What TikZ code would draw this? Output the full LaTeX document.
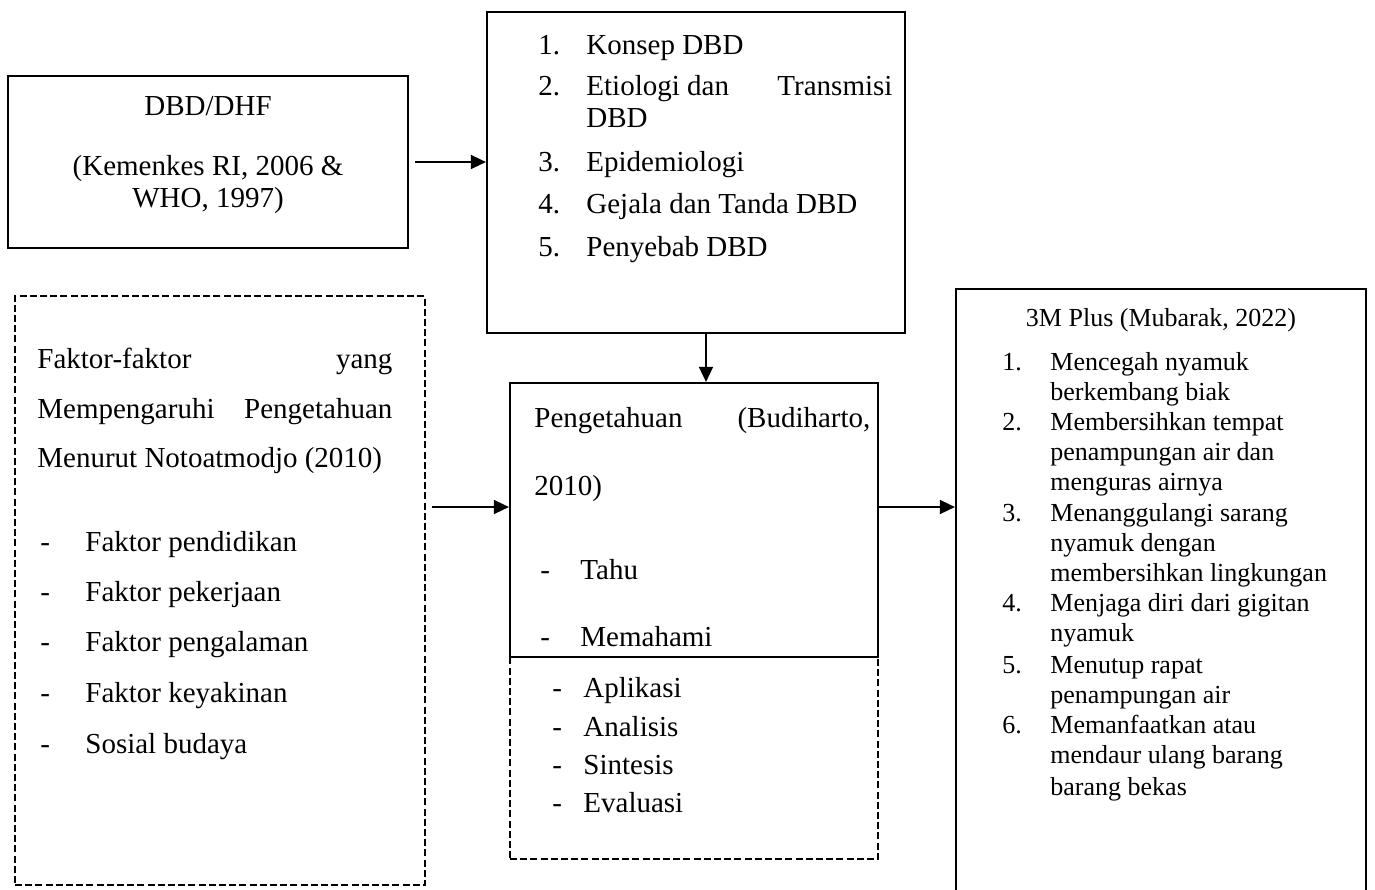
\documentclass[tikz,border=0pt]{standalone}
\usepackage{fontspec}
\setmainfont{Liberation Serif}
\usetikzlibrary{arrows.meta}

\begin{document}
\begin{tikzpicture}[x=0.5pt, y=-0.5pt,
    box/.style={draw, line width=1.1pt, inner sep=0pt},
    dbox/.style={draw, line width=1.1pt, dash pattern=on 3.5pt off 1.6pt, inner sep=0pt},
    txt/.style={anchor=west, inner sep=0pt, text height=9.6pt, text depth=0pt, font=\fontsize{14.5}{17}\selectfont},
    ctxt/.style={txt, anchor=center},
    stxt/.style={txt, text height=8.6pt, font=\fontsize{13}{15}\selectfont},
    arr/.style={-{Triangle[length=7.5pt,width=7pt]}, line width=0.8pt}]
        \useasboundingbox (0,0) rectangle (1375,889);

        % boxes
        \node[box, minimum width=200pt, minimum height=86pt] (dbd) at (208,162) {};
        \node[box, minimum width=209pt, minimum height=160.5pt] (konsep) at (696,172.5) {};
        \node[dbox, minimum width=205pt, minimum height=294.5pt] (faktor) at (220,590.5) {};
        \node[dbox, minimum width=184pt, minimum height=101pt] (lanjut) at (694,758) {};
        \node[box, minimum width=184pt, minimum height=137pt] (tahu) at (694,520) {};
        \node[box, minimum width=205pt, minimum height=320.5pt] (plus) at (1161,609.5) {};

        % DBD/DHF
        \node[ctxt] (d1) at (208,106) {DBD/DHF};
        \node[ctxt] (d2) at (208,166) {(Kemenkes RI, 2006 \&};
        \node[ctxt] (d3) at (208,198) {WHO, 1997)};

        % konsep DBD
        \node[txt] (k1n) at (538,45) {1.};
        \node[txt] (k1) at (586,45) {Konsep DBD};
        \node[txt] (k2n) at (538,86) {2.};
        \node[txt] (k2) at (586,86) {\makebox[153pt][l]{Etiologi dan\hfill Transmisi}};
        \node[txt] (k2b) at (586,118) {DBD};
        \node[txt] (k3n) at (538,162) {3.};
        \node[txt] (k3) at (586,162) {Epidemiologi};
        \node[txt] (k4n) at (538,204) {4.};
        \node[txt] (k4) at (586,204) {Gejala dan Tanda DBD};
        \node[txt] (k5n) at (538,247) {5.};
        \node[txt] (k5) at (586,247) {Penyebab DBD};

        % faktor-faktor
        \node[txt] (f1) at (37,359) {\makebox[177.5pt][l]{Faktor-faktor\hfill yang}};
        \node[txt] (f2) at (37,409) {\makebox[177.5pt][l]{Mempengaruhi\hfill Pengetahuan}};
        \node[txt] (f3) at (37,458) {Menurut Notoatmodjo (2010)};
        \node[txt] (f4d) at (40,542) {-};
        \node[txt] (f4) at (85,542) {Faktor pendidikan};
        \node[txt] (f5d) at (40,592) {-};
        \node[txt] (f5) at (85,592) {Faktor pekerjaan};
        \node[txt] (f6d) at (40,642) {-};
        \node[txt] (f6) at (85,642) {Faktor pengalaman};
        \node[txt] (f7d) at (40,693) {-};
        \node[txt] (f7) at (85,693) {Faktor keyakinan};
        \node[txt] (f8d) at (40,744) {-};
        \node[txt] (f8) at (85,744) {Sosial budaya};

        % pengetahuan
        \node[txt] (p1) at (534,418) {\makebox[168pt][l]{Pengetahuan\hfill (Budiharto,}};
        \node[txt] (p2) at (534,486) {2010)};
        \node[txt] (p3d) at (540,570) {-};
        \node[txt] (p3) at (580,570) {Tahu};
        \node[txt] (p4d) at (540,637) {-};
        \node[txt] (p4) at (580,637) {Memahami};
        \node[txt] (p5d) at (552,688) {-};
        \node[txt] (p5) at (583,688) {Aplikasi};
        \node[txt] (p6d) at (552,727) {-};
        \node[txt] (p6) at (583,727) {Analisis};
        \node[txt] (p7d) at (552,765) {-};
        \node[txt] (p7) at (583,765) {Sintesis};
        \node[txt] (p8d) at (552,803) {-};
        \node[txt] (p8) at (583,803) {Evaluasi};

        % 3M plus
        \node[stxt, anchor=center] (m0) at (1161,318) {3M Plus (Mubarak, 2022)};
        \node[stxt] (m1n) at (1002,362) {1.};
        \node[stxt] (m1) at (1050,362) {Mencegah nyamuk};
        \node[stxt] (m1b) at (1050,392) {berkembang biak};
        \node[stxt] (m2n) at (1002,422) {2.};
        \node[stxt] (m2) at (1050,422) {Membersihkan tempat};
        \node[stxt] (m2b) at (1050,452) {penampungan air dan};
        \node[stxt] (m2c) at (1050,482) {menguras airnya};
        \node[stxt] (m3n) at (1002,513) {3.};
        \node[stxt] (m3) at (1050,513) {Menanggulangi sarang};
        \node[stxt] (m3b) at (1050,543) {nyamuk dengan};
        \node[stxt] (m3c) at (1050,573) {membersihkan lingkungan};
        \node[stxt] (m4n) at (1002,603) {4.};
        \node[stxt] (m4) at (1050,603) {Menjaga diri dari gigitan};
        \node[stxt] (m4b) at (1050,633) {nyamuk};
        \node[stxt] (m5n) at (1002,665) {5.};
        \node[stxt] (m5) at (1050,665) {Menutup rapat};
        \node[stxt] (m5b) at (1050,695) {penampungan air};
        \node[stxt] (m6n) at (1002,725) {6.};
        \node[stxt] (m6) at (1050,725) {Memanfaatkan atau};
        \node[stxt] (m6b) at (1050,755) {mendaur ulang barang};
        \node[stxt] (m6c) at (1050,787) {barang bekas};

        % arrows
        \coordinate (lvl) at (694,507);
        \draw[arr, shorten <=3pt] (dbd.east) -- (konsep.west |- dbd.east);
        \draw[arr] ([xshift=5pt]konsep.south) -- ([xshift=6pt]tahu.north);
        \draw[arr, shorten <=3pt] (faktor.east |- lvl) -- (tahu.west |- lvl);
        \draw[arr] (tahu.east |- lvl) -- (plus.west |- lvl);
    \end{tikzpicture}
\end{document}
